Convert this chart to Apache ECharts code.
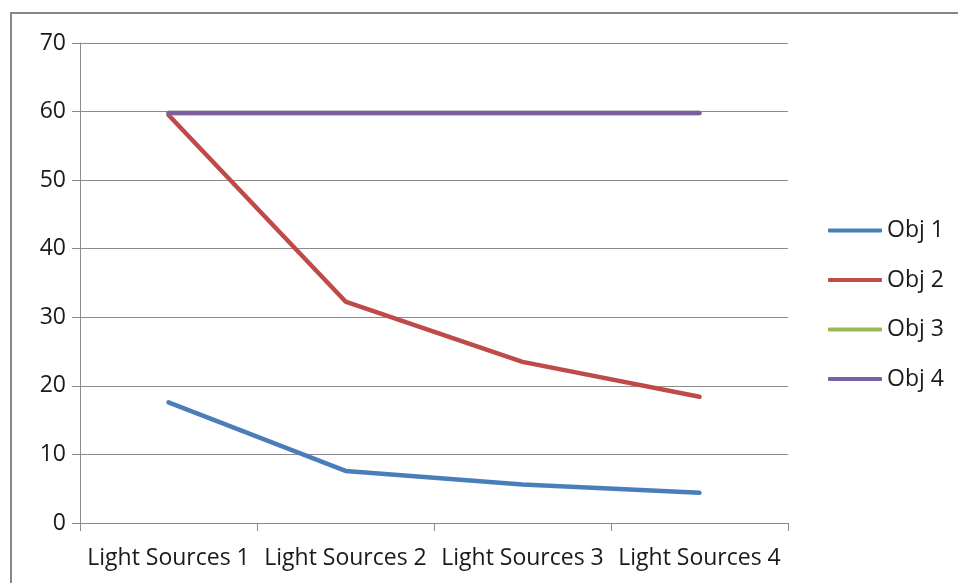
<!DOCTYPE html>
<html><head><meta charset="utf-8">
<script src="https://cdn.jsdelivr.net/npm/echarts@6/dist/echarts.min.js"></script>
<style>html,body{margin:0;padding:0;background:#fff}#c{width:958px;height:583px}</style>
</head><body><div id="c"></div>
<script>
const categories = ['Light Sources 1','Light Sources 2','Light Sources 3','Light Sources 4'];
const obj1 = [17.6, 7.6, 5.6, 4.4];
const obj2 = [59.5, 32.3, 23.5, 18.4];
const obj3 = [59.8, 59.8, 59.8, 59.8];
const obj4 = [59.8, 59.8, 59.8, 59.8];
const seriesNames = ['Obj 1','Obj 2','Obj 3','Obj 4'];
const colors = ['#4a7ebb','#be4b48','#98b954','#7d5fa0'];
const font = 'Open Sans, Noto Sans, sans-serif';
const chart = echarts.init(document.getElementById('c'), null, {renderer:'canvas'});
const mk = (name, data, i) => ({
  name, type:'line', data, symbol:'none', smooth:false,
  lineStyle:{width:4.5, color:colors[i], cap:'round'}, itemStyle:{color:colors[i]}
});
chart.setOption({
  animation:false,
  color: colors,
  graphic:[{type:'rect', shape:{x:11, y:13, width:960, height:600}, style:{fill:'none', stroke:'#868686', lineWidth:2}, silent:true}],
  grid:{left:80, right:170, top:43, bottom:60},
  legend:{
    orient:'vertical', left:823, top:214, itemWidth:54, itemHeight:4, itemGap:26.5,
    icon:'roundRect',
    textStyle:{fontFamily:font, fontSize:23, color:'#1a1a1a', padding:[0,0,0,0]},
    data: seriesNames
  },
  xAxis:{
    type:'category', data:categories, boundaryGap:true,
    axisLine:{lineStyle:{color:'#8c8c8c', width:1}},
    axisTick:{show:true, length:8, alignWithLabel:false, lineStyle:{color:'#8c8c8c'}},
    axisLabel:{fontFamily:font, fontSize:23, color:'#1a1a1a', margin:24, interval:0}
  },
  yAxis:{
    type:'value', min:0, max:70, interval:10,
    axisLine:{show:true, lineStyle:{color:'#8c8c8c'}},
    axisTick:{show:true, length:8, lineStyle:{color:'#8c8c8c'}},
    splitLine:{lineStyle:{color:'#8c8c8c', width:1}},
    axisLabel:{fontFamily:font, fontSize:23, color:'#1a1a1a', margin:14}
  },
  series:[mk(seriesNames[0],obj1,0), mk(seriesNames[1],obj2,1), mk(seriesNames[2],obj3,2), mk(seriesNames[3],obj4,3)]
});
</script></body></html>
